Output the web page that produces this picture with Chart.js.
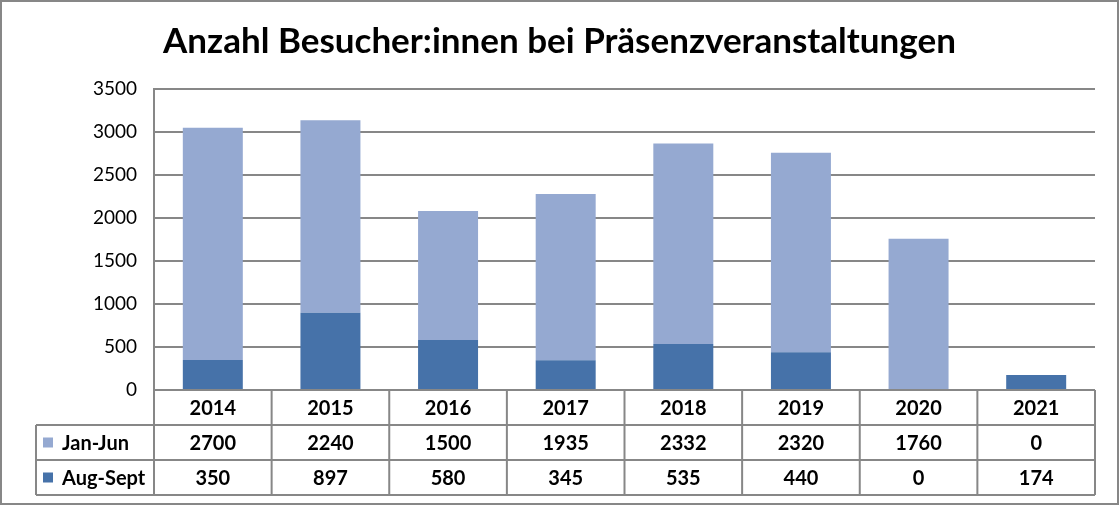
<!DOCTYPE html>
<html>
<head>
<meta charset="utf-8">
<script src="https://cdn.jsdelivr.net/npm/chart.js@4"></script>
<style>
  html, body { margin: 0; padding: 0; background: #fff; }
  #chart { display: block; }
</style>
</head>
<body>
<canvas id="chart" width="1119" height="505"></canvas>
<script>
// Data
const years = ['2014', '2015', '2016', '2017', '2018', '2019', '2020', '2021'];
const janJun = [2700, 2240, 1500, 1935, 2332, 2320, 1760, 0];
const augSept = [350, 897, 580, 345, 535, 440, 0, 174];
const seriesNames = ['Jan-Jun', 'Aug-Sept'];
const titleText = 'Anzahl Besucher:innen bei Präsenzveranstaltungen';

const LIGHT = '#95a9d1';
const DARK = '#4672a9';
const LINE = '#878787';
const FONT = 'Lato, "DejaVu Sans", sans-serif';

// Draws the title, outer border and the data table under the plot
const tablePlugin = {
  id: 'dataTable',
  afterDraw(chart) {
    const ctx = chart.ctx;
    const area = chart.chartArea;
    const xs = chart.scales.x;
    const rowH = 35;
    const tableLeft = 36;
    const step = (area.right - area.left) / years.length;

    ctx.save();

    // outer frame
    ctx.strokeStyle = LINE;
    ctx.lineWidth = 2;
    ctx.strokeRect(1, 1, chart.width - 2, chart.height - 2);

    // title
    ctx.fillStyle = '#000';
    ctx.font = 'bold 35px ' + FONT;
    ctx.textAlign = 'center';
    ctx.textBaseline = 'middle';
    ctx.fillText(titleText, chart.width / 2, 42);

    // table grid
    ctx.strokeStyle = LINE;
    ctx.lineWidth = 2;
    ctx.beginPath();
    for (let r = 1; r <= 3; r++) {
      const y = area.bottom + r * rowH;
      ctx.moveTo(tableLeft, y);
      ctx.lineTo(area.right, y);
    }
    ctx.moveTo(tableLeft, area.bottom + rowH);
    ctx.lineTo(tableLeft, area.bottom + 3 * rowH);
    for (let i = 0; i <= years.length; i++) {
      const x = area.left + i * step;
      ctx.moveTo(x, area.bottom);
      ctx.lineTo(x, area.bottom + 3 * rowH);
    }
    ctx.stroke();

    // table text
    ctx.fillStyle = '#000';
    ctx.font = 'bold 20px ' + FONT;
    ctx.textAlign = 'center';
    const rows = [years, janJun, augSept];
    rows.forEach((vals, r) => {
      const y = area.bottom + r * rowH + rowH / 2 + 1;
      vals.forEach((v, i) => {
        ctx.fillText(String(v), xs.getPixelForValue(i), y);
      });
    });

    // row headers with legend keys
    const keys = [LIGHT, DARK];
    ctx.textAlign = 'left';
    seriesNames.forEach((name, r) => {
      const y = area.bottom + (r + 1) * rowH + rowH / 2;
      ctx.fillStyle = keys[r];
      ctx.fillRect(43, y - 5, 10, 10);
      ctx.fillStyle = '#000';
      ctx.fillText(name, 62, y + 1);
    });

    ctx.restore();
  }
};

new Chart(document.getElementById('chart'), {
  type: 'bar',
  data: {
    labels: years,
    datasets: [
      {
        label: 'Aug-Sept',
        data: augSept,
        backgroundColor: DARK,
        barPercentage: 0.51,
        categoryPercentage: 1
      },
      {
        label: 'Jan-Jun',
        data: janJun,
        backgroundColor: LIGHT,
        barPercentage: 0.51,
        categoryPercentage: 1
      }
    ]
  },
  options: {
    responsive: false,
    animation: false,
    devicePixelRatio: 1,
    layout: {
      padding: { top: 89, right: 24, bottom: 115, left: 0 }
    },
    plugins: {
      legend: { display: false },
      title: { display: false },
      tooltip: { enabled: false }
    },
    scales: {
      x: {
        stacked: true,
        display: false
      },
      y: {
        stacked: true,
        min: 0,
        max: 3500,
        ticks: {
          stepSize: 500,
          padding: 17,
          color: '#000',
          font: { family: FONT, size: 19 },
          callback: (v) => String(v)
        },
        grid: {
          color: LINE,
          lineWidth: 2,
          drawTicks: false
        },
        border: { display: true, color: LINE, width: 2 },
        afterFit(scale) {
          scale.width = 154;
        }
      }
    }
  },
  plugins: [tablePlugin]
});
</script>
</body>
</html>
